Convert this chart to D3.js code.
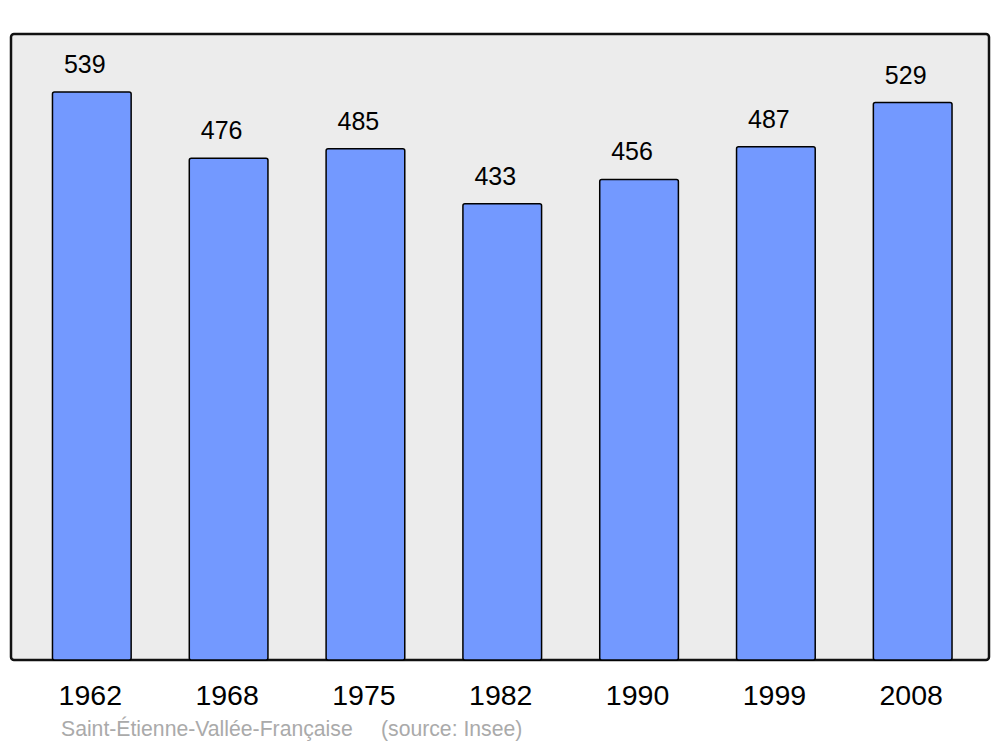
<!DOCTYPE html>
<html>
<head>
<meta charset="utf-8">
<script src="https://cdn.jsdelivr.net/npm/d3@7"></script>
<style>
  html, body { margin: 0; padding: 0; background: #ffffff; }
  svg { display: block; }
</style>
</head>
<body>
<svg id="chart" width="1000" height="747"></svg>
<script>
const years = ["1962", "1968", "1975", "1982", "1990", "1999", "2008"];
const population = [539, 476, 485, 433, 456, 487, 529];
const caption = "Saint-Étienne-Vallée-Française";
const source = "(source: Insee)";

const svg = d3.select("#chart");
const font = "'Liberation Sans', Arial, sans-serif";

const panel = { left: 11, top: 34, right: 989, bottom: 660 };

svg.append("rect")
  .attr("x", panel.left).attr("y", panel.top)
  .attr("width", panel.right - panel.left)
  .attr("height", panel.bottom - panel.top)
  .attr("rx", 3).attr("ry", 3)
  .attr("fill", "#ececec")
  .attr("stroke", "#111")
  .attr("stroke-width", 2.5);

const x = d3.scaleBand()
  .domain(years)
  .range([23.4, 981.1])
  .paddingInner(0.425)
  .paddingOuter(0.2125);

const y = d3.scaleLinear()
  .domain([0, 594])
  .range([panel.bottom, panel.top]);

const data = years.map((yr, i) => ({ year: yr, value: population[i] }));

svg.append("g").selectAll("rect")
  .data(data)
  .join("rect")
  .attr("x", d => x(d.year))
  .attr("y", d => y(d.value))
  .attr("width", x.bandwidth())
  .attr("height", d => y(0) - y(d.value))
  .attr("rx", 2).attr("ry", 2)
  .attr("fill", "#7399ff")
  .attr("stroke", "#000")
  .attr("stroke-width", 1.5);

svg.append("g").selectAll("text")
  .data(data)
  .join("text")
  .attr("x", d => x(d.year) + x.bandwidth() / 2 - 7)
  .attr("y", d => y(d.value) - 19)
  .attr("text-anchor", "middle")
  .attr("font-family", font)
  .attr("font-size", 25)
  .attr("fill", "#000")
  .text(d => d.value);

const xAxis = d3.axisBottom(x).tickSize(0).tickPadding(0);
const gx = svg.append("g")
  .attr("transform", `translate(0, ${panel.bottom})`)
  .call(xAxis);
gx.select(".domain").remove();
gx.selectAll("text")
  .attr("x", -1.5)
  .attr("y", 45)
  .attr("dy", 0)
  .attr("font-family", font)
  .attr("font-size", 28.5)
  .attr("fill", "#000");

svg.append("text")
  .attr("x", 61)
  .attr("y", 736)
  .attr("font-family", font)
  .attr("font-size", 21.2)
  .attr("fill", "#aaaaaa")
  .text(caption);

svg.append("text")
  .attr("x", 381)
  .attr("y", 736)
  .attr("font-family", font)
  .attr("font-size", 21.2)
  .attr("fill", "#aaaaaa")
  .text(source);
</script>
</body>
</html>
